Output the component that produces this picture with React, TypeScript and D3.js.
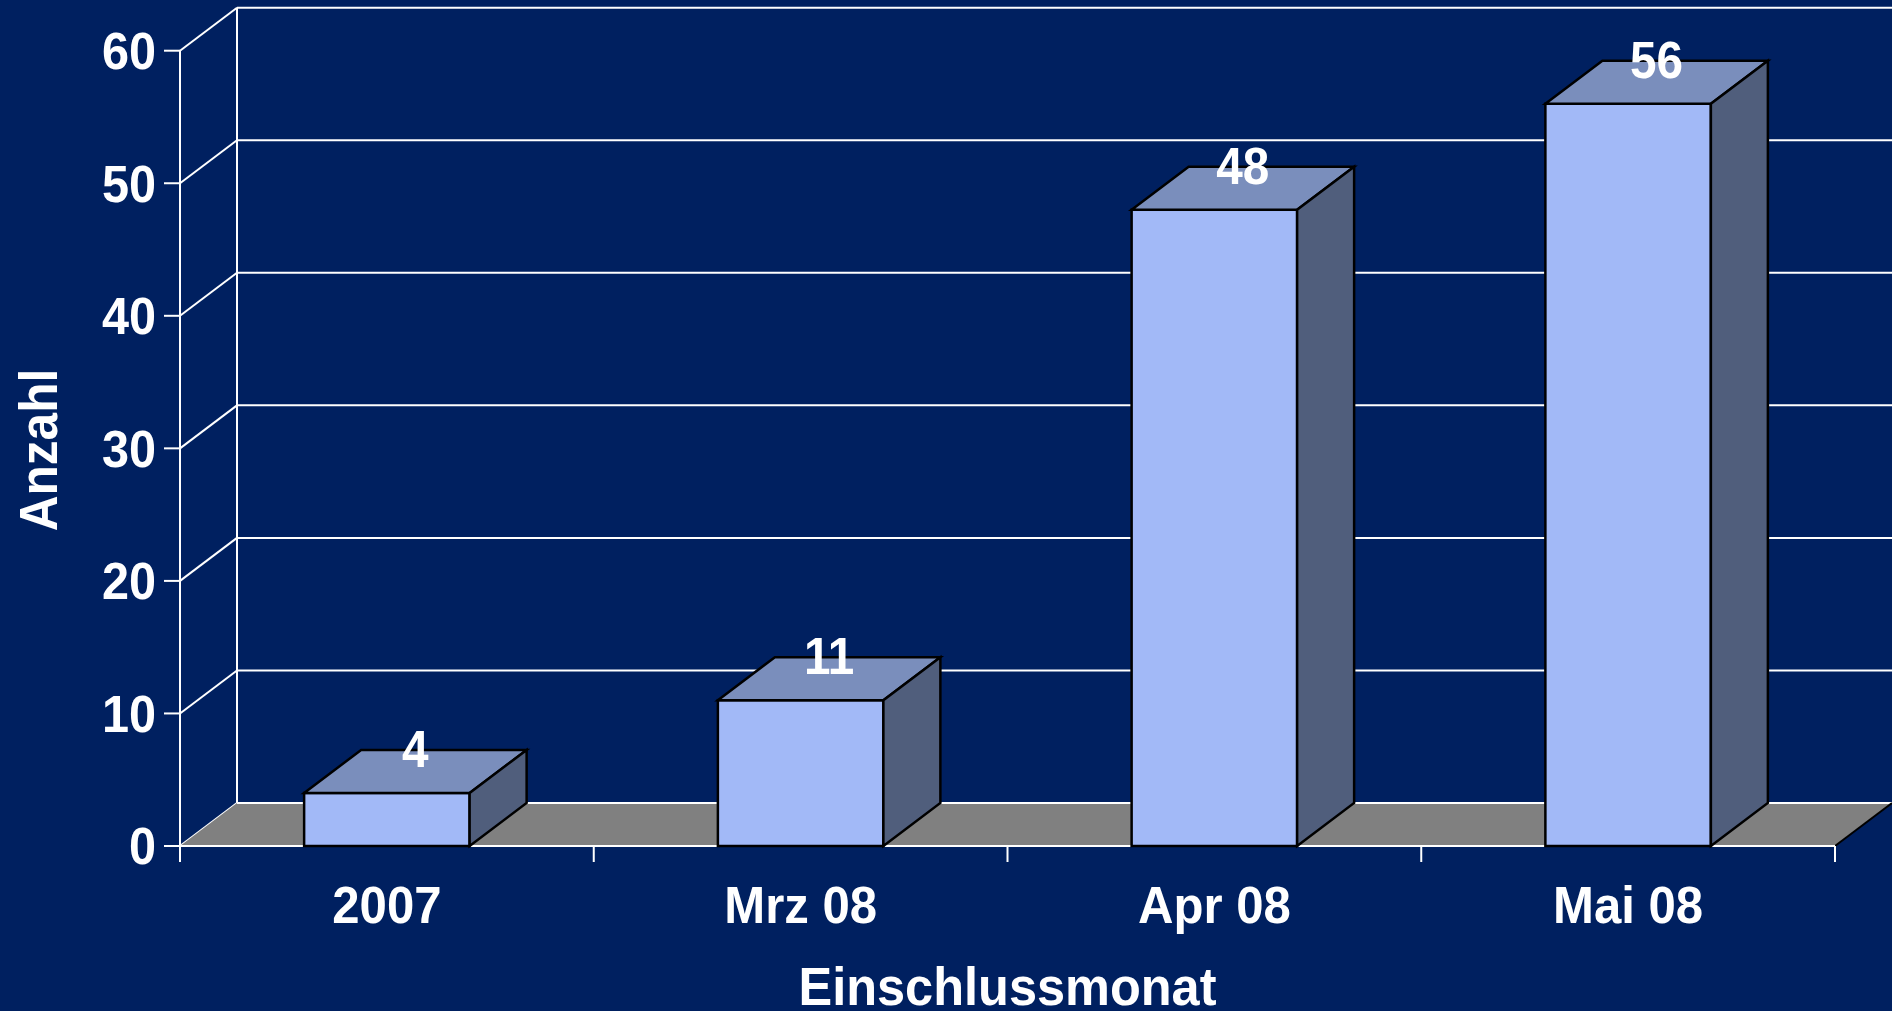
import React, { useEffect, useRef } from 'react';
import * as d3 from 'd3';

// chart data
const categories = ['2007', 'Mrz 08', 'Apr 08', 'Mai 08'];
const counts = [4, 11, 48, 56];
const yTicks = [0, 10, 20, 30, 40, 50, 60];

const W = 1892;
const H = 1011;
const FONT = '"Liberation Sans", Arial, sans-serif';
const SQUEEZE = 'scale(0.935,1)'; // the source font runs a bit narrower than Liberation

const App = () => {
  const svgRef = useRef<SVGSVGElement>(null);

  useEffect(() => {
    const svg = d3.select(svgRef.current);
    svg.selectAll('*').remove();

    // plot frame
    const left = 180, right = 1835, bottom = 846, top = 50.7;
    const dx = 57, dy = -43; // depth offset of the 3d box

    const x = d3.scaleBand<string>()
      .domain(categories)
      .range([left, right])
      .paddingInner(0.6)
      .paddingOuter(0.3);
    const step = (right - left) / categories.length;

    const y = d3.scaleLinear().domain([0, 60]).range([bottom, top]);

    svg.append('rect').attr('width', W).attr('height', H).attr('fill', '#002060');

    // back wall gridlines
    svg.append('g')
      .selectAll('line')
      .data(yTicks.slice(1))
      .enter()
      .append('line')
      .attr('x1', left + dx)
      .attr('x2', W)
      .attr('y1', d => y(d) + dy)
      .attr('y2', d => y(d) + dy)
      .attr('stroke', '#fff')
      .attr('stroke-width', 2);

    // side wall diagonals
    svg.append('g')
      .selectAll('line')
      .data(yTicks)
      .enter()
      .append('line')
      .attr('x1', left)
      .attr('y1', d => y(d))
      .attr('x2', left + dx)
      .attr('y2', d => y(d) + dy)
      .attr('stroke', '#fff')
      .attr('stroke-width', 2);

    // back wall left edge
    svg.append('line')
      .attr('x1', left + dx).attr('x2', left + dx)
      .attr('y1', y(60) + dy).attr('y2', y(0) + dy)
      .attr('stroke', '#fff').attr('stroke-width', 2);

    // floor
    svg.append('polygon')
      .attr('points', [[left, bottom], [right, bottom], [right + dx, bottom + dy], [left + dx, bottom + dy]].join(' '))
      .attr('fill', '#808080');
    svg.append('line')
      .attr('x1', left + dx).attr('x2', W)
      .attr('y1', bottom + dy).attr('y2', bottom + dy)
      .attr('stroke', '#fff').attr('stroke-width', 2);
    svg.append('line')
      .attr('x1', right).attr('y1', bottom)
      .attr('x2', right + dx).attr('y2', bottom + dy)
      .attr('stroke', '#000').attr('stroke-width', 2);

    // front axes
    svg.append('line')
      .attr('x1', left).attr('x2', left)
      .attr('y1', top).attr('y2', bottom + 16)
      .attr('stroke', '#fff').attr('stroke-width', 2);
    svg.append('line')
      .attr('x1', left - 16).attr('x2', right)
      .attr('y1', bottom).attr('y2', bottom)
      .attr('stroke', '#fff').attr('stroke-width', 2);

    // y ticks + labels
    const yt = svg.append('g').selectAll('g').data(yTicks).enter().append('g');
    yt.append('line')
      .attr('x1', left - 16).attr('x2', left)
      .attr('y1', d => y(d)).attr('y2', d => y(d))
      .attr('stroke', '#fff').attr('stroke-width', 2);
    yt.append('text')
      .attr('transform', d => `translate(${left - 24},${y(d)}) ${SQUEEZE}`)
      .attr('dy', '0.355em')
      .attr('text-anchor', 'end')
      .attr('font-family', FONT)
      .attr('font-weight', 'bold')
      .attr('font-size', 52)
      .attr('fill', '#fff')
      .text(d => d);

    // x ticks between categories
    svg.append('g')
      .selectAll('line')
      .data(d3.range(1, categories.length + 1))
      .enter()
      .append('line')
      .attr('x1', i => left + i * step)
      .attr('x2', i => left + i * step)
      .attr('y1', bottom)
      .attr('y2', bottom + 16)
      .attr('stroke', '#fff')
      .attr('stroke-width', 2);

    // bars
    const bw = x.bandwidth();
    const bars = svg.append('g')
      .selectAll('g')
      .data(counts)
      .enter()
      .append('g')
      .attr('stroke', '#000')
      .attr('stroke-width', 2.5)
      .attr('stroke-linejoin', 'miter');

    bars.append('rect')
      .attr('x', (d, i) => x(categories[i])!)
      .attr('y', d => y(d))
      .attr('width', bw)
      .attr('height', d => bottom - y(d))
      .attr('fill', '#A2B9F7');

    bars.append('polygon')
      .attr('points', (d, i) => {
        const x0 = x(categories[i])!, t = y(d);
        return [[x0, t], [x0 + bw, t], [x0 + bw + dx, t + dy], [x0 + dx, t + dy]].join(' ');
      })
      .attr('fill', '#7A8EBC');

    bars.append('polygon')
      .attr('points', (d, i) => {
        const x1 = x(categories[i])! + bw, t = y(d);
        return [[x1, t], [x1 + dx, t + dy], [x1 + dx, bottom + dy], [x1, bottom]].join(' ');
      })
      .attr('fill', '#505E7C');

    // value labels
    svg.append('g')
      .selectAll('text')
      .data(counts)
      .enter()
      .append('text')
      .attr('transform', (d, i) => `translate(${x(categories[i])! + bw / 2 + dx / 2},${y(d) - 26}) ${SQUEEZE}`)
      .attr('text-anchor', 'middle')
      .attr('font-family', FONT)
      .attr('font-weight', 'bold')
      .attr('font-size', 51)
      .attr('fill', '#fff')
      .text(d => d);

    // category labels
    svg.append('g')
      .selectAll('text')
      .data(categories)
      .enter()
      .append('text')
      .attr('transform', d => `translate(${x(d)! + bw / 2},923) ${SQUEEZE}`)
      .attr('text-anchor', 'middle')
      .attr('font-family', FONT)
      .attr('font-weight', 'bold')
      .attr('font-size', 52.5)
      .attr('fill', '#fff')
      .text(d => d);

    // axis titles
    svg.append('text')
      .attr('transform', `translate(57,450) rotate(-90) ${SQUEEZE}`)
      .attr('text-anchor', 'middle')
      .attr('font-family', FONT)
      .attr('font-weight', 'bold')
      .attr('font-size', 53)
      .attr('fill', '#fff')
      .text('Anzahl');

    svg.append('text')
      .attr('transform', `translate(${(left + right) / 2},1005) ${SQUEEZE}`)
      .attr('text-anchor', 'middle')
      .attr('font-family', FONT)
      .attr('font-weight', 'bold')
      .attr('font-size', 54)
      .attr('fill', '#fff')
      .text('Einschlussmonat');
  }, []);

  return (
    <div style={{ position: 'fixed', left: 0, top: 0, width: W, height: H, background: '#002060' }}>
      <svg ref={svgRef} width={W} height={H} style={{ display: 'block' }} />
    </div>
  );
};

export default App;
